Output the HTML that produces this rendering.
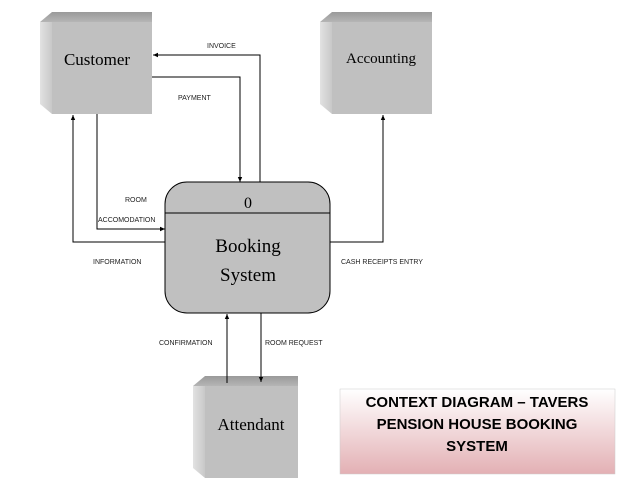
<!DOCTYPE html><html><head><style>body{margin:0;background:#fff}svg{display:block}</style></head><body>
<svg width="638" height="493" xmlns="http://www.w3.org/2000/svg">
<defs>
<linearGradient id="tf" x1="0" y1="0" x2="0" y2="1"><stop offset="0" stop-color="#9a9a9a"/><stop offset="1" stop-color="#b5b5b5"/></linearGradient>
<linearGradient id="sf" x1="0" y1="0" x2="1" y2="0"><stop offset="0" stop-color="#e2e2e2"/><stop offset="1" stop-color="#c8c8c8"/></linearGradient>
<linearGradient id="pk" x1="0" y1="0" x2="0" y2="1"><stop offset="0" stop-color="#ffffff"/><stop offset="1" stop-color="#e3b0b4"/></linearGradient>
<marker id="a" markerWidth="6" markerHeight="6" refX="5" refY="3" orient="auto"><path d="M0,0.8 L5,3 L0,5.2z" fill="#000"/></marker>
</defs>
<polygon points="40,22 52,12 152,12 152,22" fill="url(#tf)"/>
<polygon points="40,22 52,22 52,114 40,104" fill="url(#sf)"/>
<rect x="52" y="22" width="100" height="92" fill="#c0c0c0"/>
<polygon points="320,22 332,12 432,12 432,22" fill="url(#tf)"/>
<polygon points="320,22 332,22 332,114 320,104" fill="url(#sf)"/>
<rect x="332" y="22" width="100" height="92" fill="#c0c0c0"/>
<polygon points="193,386 205,376 298,376 298,386" fill="url(#tf)"/>
<polygon points="193,386 205,386 205,478 193,468" fill="url(#sf)"/>
<rect x="205" y="386" width="93" height="92" fill="#c0c0c0"/>
<rect x="165" y="182" width="165" height="131" rx="22" fill="#c0c0c0" stroke="#000" stroke-width="1"/>
<line x1="165" y1="213" x2="330" y2="213" stroke="#000"/>
<g font-family="Liberation Serif,serif" fill="#000" text-anchor="middle">
<text x="97" y="65" font-size="17">Customer</text>
<text x="381" y="63" font-size="15">Accounting</text>
<text x="251" y="430" font-size="17">Attendant</text>
<text x="248" y="208" font-size="16">0</text>
<text x="248" y="252" font-size="19">Booking</text>
<text x="248" y="281" font-size="19">System</text>
</g>
<g fill="none" stroke="#000" stroke-width="1">
<polyline points="260,182 260,55 153,55" marker-end="url(#a)"/>
<polyline points="152,77 240,77 240,182" marker-end="url(#a)"/>
<polyline points="97,114 97,229 165,229" marker-end="url(#a)"/>
<polyline points="165,242 73,242 73,115" marker-end="url(#a)"/>
<polyline points="330,242 383,242 383,115" marker-end="url(#a)"/>
<polyline points="227,383 227,314" marker-end="url(#a)"/>
<polyline points="261,313 261,382" marker-end="url(#a)"/>
</g>
<g font-family="Liberation Sans,sans-serif" font-size="7" fill="#222">
<text x="207" y="48">INVOICE</text>
<text x="178" y="100">PAYMENT</text>
<text x="125" y="202">ROOM</text>
<text x="98" y="222">ACCOMODATION</text>
<text x="93" y="264">INFORMATION</text>
<text x="341" y="264">CASH RECEIPTS ENTRY</text>
<text x="159" y="345">CONFIRMATION</text>
<text x="265" y="345">ROOM REQUEST</text>
</g>
<rect x="340" y="389" width="275" height="85" fill="url(#pk)" stroke="#ccc" stroke-width="0.5"/>
<g font-family="Liberation Sans,sans-serif" font-size="15" font-weight="bold" fill="#000" text-anchor="middle">
<text x="477" y="407">CONTEXT DIAGRAM – TAVERS</text>
<text x="477" y="429">PENSION HOUSE BOOKING</text>
<text x="477" y="451">SYSTEM</text>
</g>
</svg>
</body></html>
